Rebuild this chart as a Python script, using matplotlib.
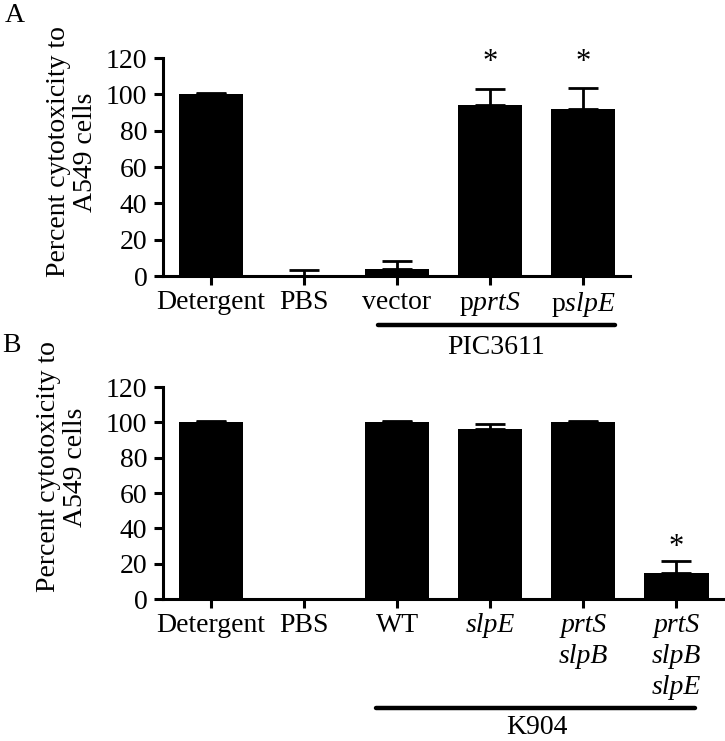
import numpy as np
import matplotlib
matplotlib.use("Agg")
import matplotlib.pyplot as plt
from matplotlib.transforms import blended_transform_factory

plt.rcParams["font.family"] = ["Liberation Serif", "DejaVu Serif"]
plt.rcParams["mathtext.fontset"] = "custom"
plt.rcParams["mathtext.rm"] = "Liberation Serif"
plt.rcParams["mathtext.it"] = "Liberation Serif:italic"
plt.rcParams["font.size"] = 20

# Panel A data
labels_a = ["Detergent", "PBS", "vector", r"p$\mathit{prtS}$", r"p$\mathit{slpE}$"]
values_a = [100, 0, 4, 94, 91.7]
errors_a = [0.8, 3.3, 4.3, 9.2, 11.6]
stars_a = [3, 4]
group_a = "PIC3611"

# Panel B data
labels_b = ["Detergent", "PBS", "WT", "slpE", "prtS\nslpB", "prtS\nslpB\nslpE"]
italic_b = [3, 4, 5]
values_b = [100, 0, 100, 96.5, 100, 15]
errors_b = [0.5, 0, 0.7, 2.3, 0.7, 6.5]
stars_b = [5]
group_b = "K904"

ylabel = "Percent cytotoxicity to\nA549 cells"
yticks = [0, 20, 40, 60, 80, 100, 120]

fig = plt.figure(figsize=(7.25, 7.41), dpi=100)
ax_a = fig.add_axes([0.2248, 0.6275, 0.644, 0.2942])
ax_b = fig.add_axes([0.2248, 0.1916, 0.7724, 0.2861])


def draw_panel(ax, labels, values, errors, stars, star_off, xmax):
    x = np.arange(len(values))
    ax.bar(x, values, width=0.69, color="black", linewidth=0, zorder=2)
    ax.errorbar(x, values, yerr=[np.zeros(len(errors)), errors], fmt="none",
                ecolor="black", elinewidth=2, capsize=11, capthick=2, zorder=1)
    for i in stars:
        ax.annotate("*", xy=(x[i], values[i] + errors[i]), xytext=(0, star_off),
                    textcoords="offset points", ha="center", va="baseline",
                    fontsize=22, annotation_clip=False)
    ax.set_xlim(-0.516, xmax)
    ax.set_ylim(0, 120)
    ax.set_yticks(yticks)
    ax.set_xticks(x)
    ax.set_xticklabels(labels, linespacing=1.3)
    for s in ["top", "right"]:
        ax.spines[s].set_visible(False)
    for s in ["left", "bottom"]:
        ax.spines[s].set_linewidth(2.2)
    ax.tick_params(axis="both", width=2.2, length=6.2, labelsize=20)
    ax.tick_params(axis="y", pad=5)
    ax.tick_params(axis="x", pad=4)
    return ax


draw_panel(ax_a, labels_a, values_a, errors_a, stars_a, 13, 4.505)
draw_panel(ax_b, labels_b, values_b, errors_b, stars_b, 4.5, 5.5)
for i in italic_b:
    ax_b.get_xticklabels()[i].set_fontstyle("italic")

# group lines under the tick labels
tr = blended_transform_factory(ax_a.transData, ax_a.transAxes)
ax_a.plot([1.80, 4.34], [-0.225, -0.225], color="black", lw=3.2,
          transform=tr, clip_on=False, solid_capstyle="round")
ax_a.text(3.07, -0.326, group_a, transform=tr, ha="center", va="center", fontsize=20)

tr = blended_transform_factory(ax_b.transData, ax_b.transAxes)
ax_b.plot([1.77, 5.2], [-0.514, -0.514], color="black", lw=3.2,
          transform=tr, clip_on=False, solid_capstyle="round")
ax_b.text(3.5, -0.608, group_b, transform=tr, ha="center", va="center", fontsize=20)

# y labels and panel letters
fig.text(72 / 725, 1 - 152 / 741, ylabel, rotation=90, ha="center", va="center",
         multialignment="center", fontsize=20, linespacing=1.15)
fig.text(62 / 725, 1 - 467 / 741, ylabel, rotation=90, ha="center", va="center",
         multialignment="center", fontsize=20, linespacing=1.15)
fig.text(15 / 725, 1 - 15 / 741, "A", ha="center", va="center", fontsize=20)
fig.text(11 / 725, 1 - 345 / 741, "B", ha="center", va="center", fontsize=20)

fig.savefig("out.png", dpi=100)
